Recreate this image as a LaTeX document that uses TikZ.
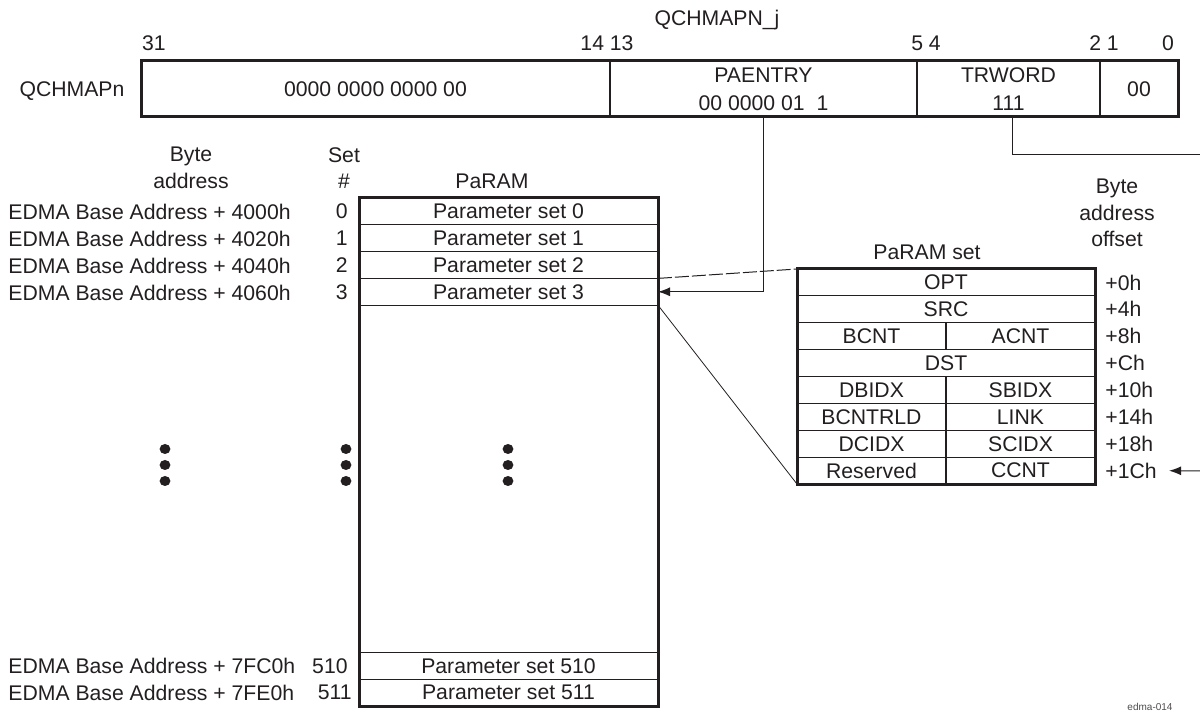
\documentclass[tikz,border=0pt]{standalone}
\usepackage{fontspec}
\setmainfont{Liberation Sans}
\usepackage{xcolor}
\usetikzlibrary{arrows.meta,positioning}
\definecolor{ink}{HTML}{231F20}

\begin{document}
\begin{tikzpicture}[
  x=0.5pt,y=-0.5pt,
  every node/.style={font=\fontsize{10.6}{13.2}\selectfont,text=ink},
  lbl/.style={inner sep=0pt},
  fld/.style={draw=ink,line width=0.6pt,minimum height=28pt,inner sep=0pt,
              outer sep=0pt,align=center,font=\fontsize{10.6}{14}\selectfont},
  prow/.style={draw=ink,line width=0.6pt,minimum width=149.5pt,minimum height=13.4pt,
              inner sep=0pt,outer sep=0pt},
  cell/.style={draw=ink,line width=0.6pt,minimum width=149pt,minimum height=13.44pt,
              inner sep=0pt,outer sep=0pt},
  half/.style={cell,minimum width=74.5pt},
  frame/.style={draw=ink,line width=1.5pt},
  conn/.style={draw=ink,line width=0.5pt},
  arr/.style={conn,-{Latex[length=6pt,width=4.5pt]}}
]
\useasboundingbox (0,0) rectangle (1200,721);

% QCHMAP register
\node[lbl] (title) at (717,20) {QCHMAPN\_j};
\node[lbl] (bit31) at (154,43) {31};
\node[lbl] (bit14) at (607,43) {14 13};
\node[lbl] (bit5) at (926,43) {5 4};
\node[lbl] (bit2) at (1104,43) {2 1};
\node[lbl] (bit0) at (1168,43) {0};
\node[lbl] (qlabel) at (72,91) {QCHMAPn};
\node[fld,minimum width=234.5pt,anchor=north west] (qzero) at (141,61) {0000 0000 0000 00};
\node[fld,minimum width=153.5pt,right=0pt of qzero] (qpaentry) {PAENTRY\\00 0000 01\ \ 1};
\node[fld,minimum width=91.5pt,right=0pt of qpaentry] (qtrword) {TRWORD\\111};
\node[fld,minimum width=39pt,right=0pt of qtrword] (qlow) {00};
\draw[frame] (qzero.north west) rectangle (qlow.south east);

% PaRAM memory
\node[lbl,align=center] (hbyte) at (191,168) {Byte\\address};
\node[lbl,align=center] (hset) at (344,168) {Set\\\#};
\node[lbl] (hparam) at (492,181) {PaRAM};
\node[prow,anchor=north west] (ps0) at (359,198) {Parameter set 0};
\node[prow,below=0pt of ps0] (ps1) {Parameter set 1};
\node[prow,below=0pt of ps1] (ps2) {Parameter set 2};
\node[prow,below=0pt of ps2] (ps3) {Parameter set 3};
\node[prow,anchor=south west] (ps511) at (359,706) {Parameter set 511};
\node[prow,above=0pt of ps511] (ps510) {Parameter set 510};
\draw[frame] (ps0.north west) rectangle (ps511.south east);

\node[lbl,left=5.5pt of ps0] (n0) {0};
\node[lbl,left=5.5pt of ps1] (n1) {1};
\node[lbl,left=5.5pt of ps2] (n2) {2};
\node[lbl,left=5.5pt of ps3] (n3) {3};
\node[lbl,left=5.5pt of ps510] (n510) {510};
\node[lbl,left=3.5pt of ps511] (n511) {511};

\node[lbl,anchor=west] (a0) at (8,212) {EDMA Base Address + 4000h};
\node[lbl,anchor=west] (a1) at (8,239) {EDMA Base Address + 4020h};
\node[lbl,anchor=west] (a2) at (8,265.5) {EDMA Base Address + 4040h};
\node[lbl,anchor=west] (a3) at (8,292.5) {EDMA Base Address + 4060h};
\node[lbl,anchor=west] (a510) at (8,665.6) {EDMA Base Address + 7FC0h};
\node[lbl,anchor=west] (a511) at (8,692.6) {EDMA Base Address + 7FE0h};

\foreach \x in {165,346,508}
  \foreach \y in {449,465,481}
    \fill[ink] (\x,\y) ellipse[x radius=2.7pt,y radius=2.5pt];

% one PaRAM set
\node[lbl] (hpset) at (927,252) {PaRAM set};
\node[lbl,align=center] (hoff) at (1117,213) {Byte\\address\\offset};
\node[cell,anchor=north west] (opt) at (797,269) {OPT};
\node[cell,below=0pt of opt] (src) {SRC};
\node[half,anchor=north west] (bcnt) at (src.south west) {BCNT};
\node[half,right=0pt of bcnt] (acnt) {ACNT};
\node[cell,anchor=north west] (dst) at (bcnt.south west) {DST};
\node[half,anchor=north west] (dbidx) at (dst.south west) {DBIDX};
\node[half,right=0pt of dbidx] (sbidx) {SBIDX};
\node[half,below=0pt of dbidx] (bcntrld) {BCNTRLD};
\node[half,right=0pt of bcntrld] (link) {LINK};
\node[half,below=0pt of bcntrld] (dcidx) {DCIDX};
\node[half,right=0pt of dcidx] (scidx) {SCIDX};
\node[half,below=0pt of dcidx] (resv) {Reserved};
\node[half,right=0pt of resv] (ccnt) {CCNT};
\draw[frame] (opt.north west) rectangle (ccnt.south east);

\node[lbl,right=5pt of opt] (o0) {+0h};
\node[lbl,right=5pt of src] (o1) {+4h};
\node[lbl,right=5pt of acnt] (o2) {+8h};
\node[lbl,right=5pt of dst] (o3) {+Ch};
\node[lbl,right=5pt of sbidx] (o4) {+10h};
\node[lbl,right=5pt of link] (o5) {+14h};
\node[lbl,right=5pt of scidx] (o6) {+18h};
\node[lbl,right=5pt of ccnt] (o7) {+1Ch};

% connectors
\coordinate (exitR) at (1200,155);
\coordinate (enterR) at (1200,471);
\draw[arr] (qpaentry.south) |- (ps3.east);
\draw[conn] ([xshift=2pt]qtrword.south) |- (exitR);
\draw[arr,shorten >=6pt] (enterR) -- (o7.east);
\draw[conn,dash pattern=on 7pt off 1.5pt] (ps3.north east) -- (opt.north west);
\draw[conn,line width=0.4pt] (ps3.south east) -- (resv.south west);

\node[lbl,font=\fontsize{5}{6}\selectfont,text=ink!80] (figid) at (1150,707) {edma-014};
\end{tikzpicture}
\end{document}
